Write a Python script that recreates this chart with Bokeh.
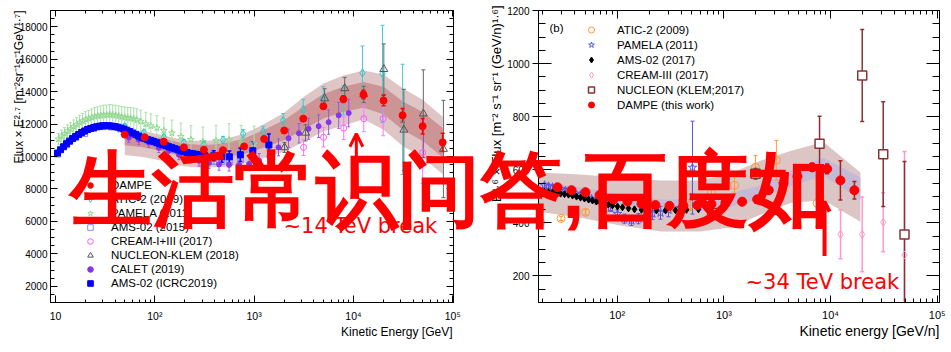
import math
from bokeh.plotting import figure
from bokeh.layouts import row
from bokeh.models import (ColumnDataSource, Whisker, TeeHead, Label, Arrow, OpenHead,
                          Legend, LegendItem, FixedTicker, LogAxis, LinearAxis, Range1d,
                          SingleIntervalTicker, CustomJSTickFormatter, GridBox)
from bokeh.embed import file_html
from bokeh.resources import INLINE
try:
    from bokeh.models import HTMLLabel
except ImportError:
    HTMLLabel = None

# ======================= Panel (a): proton, Flux x E^2.7 =======================
dampe_p_E = [49.8, 79.0, 123.0, 196.0, 312.0, 486.0, 792.0, 1262, 2010, 3126, 4979, 7925,
             12620, 20100, 31260, 49780, 79250]
dampe_p_F = [11352, 11184, 10916, 10561, 10417, 10386, 10623, 11084, 11601, 12330, 13097, 13533,
             13826, 13452, 12536, 11869, 10872]
dampe_p_err = [30, 30, 30, 40, 40, 50, 60, 80, 100, 130, 170, 210, 260, 330, 420, 480, 560]
band_p_in_lo = [10700, 10550, 10300, 10000, 9900, 9950, 10150, 10550, 11000, 11650, 12350, 12750,
                13000, 12600, 11650, 10950, 9950]
band_p_in_hi = [11500, 11350, 11100, 10800, 10700, 10800, 11100, 11650, 12250, 13050, 13850, 14300,
                14600, 14300, 13400, 12750, 11750]
band_p_out_lo = [10100, 9950, 9700, 9400, 9300, 9350, 9550, 9900, 10300, 10900, 11550, 11900,
                 12300, 11650, 10650, 9950, 8900]
band_p_out_hi = [11700, 11550, 11300, 11000, 10950, 11050, 11400, 12000, 12700, 13650, 14500, 15000,
                 15300, 15050, 14200, 13500, 12450]

ams19_E = [10.47, 11.23, 12.05, 12.91, 13.85, 14.85, 15.92, 17.08, 18.31, 19.63,
           21.05, 22.57, 24.20, 25.95, 27.83, 29.84, 31.99, 34.30, 36.79, 39.45,
           42.30, 45.36, 48.63, 52.14, 55.92, 59.96, 64.29, 68.94, 73.92, 79.25,
           84.98, 91.12, 97.70, 104.8, 112.3, 120.4, 129.2, 138.5, 148.5, 159.2,
           170.8, 183.1, 196.3, 210.5, 225.7, 242.0, 259.5, 278.3, 298.4, 319.9,
           391.7, 471.9, 563.0, 727.1, 970.3, 1408]
ams19_F = [10212, 10417, 10604, 10791, 10947, 11103, 11227, 11352, 11477, 11570,
           11664, 11726, 11788, 11832, 11869, 11894, 11900, 11894, 11875, 11850,
           11807, 11757, 11695, 11620, 11539, 11445, 11352, 11258, 11177, 11103,
           11040, 10978, 10916, 10854, 10791, 10729, 10667, 10604, 10542, 10480,
           10417, 10355, 10293, 10243, 10199, 10168, 10137, 10106, 10075, 10044,
           10044, 9981, 9981, 10106, 10355, 10710]
ams19_err = [40, 40, 40, 40, 40, 40, 40, 40, 40, 40,
             40, 40, 40, 40, 40, 40, 40, 40, 40, 40,
             40, 40, 40, 40, 40, 40, 40, 40, 40, 40,
             40, 40, 40, 40, 40, 40, 40, 40, 40, 40,
             60, 60, 60, 60, 60, 60, 60, 60, 60, 60,
             310, 330, 360, 420, 520, 675]

ams15_E = [10.47, 12.91, 15.92, 19.63, 24.20, 29.84, 36.79, 45.36, 55.92, 68.94, 84.98,
           104.8, 129.2, 159.2, 196.3, 242.0, 298.4, 391.7, 471.9, 563.0, 727.1, 970.3]
ams15_F = [10150, 10730, 11170, 11420, 11730, 11840, 11820, 11700, 11480, 11200, 10980,
           10790, 10600, 10420, 10230, 10100, 10000, 9700, 9700, 9650, 9800, 10000]
ams15_err = [40, 40, 40, 40, 40, 40, 40, 40, 40, 40, 50,
             50, 60, 60, 70, 80, 100, 150, 180, 220, 280, 350]

pam_p_E = [10.72, 11.50, 12.33, 13.22, 14.17, 15.20, 16.30, 17.47, 18.74, 20.09,
           21.54, 23.10, 24.77, 26.56, 28.48, 30.53, 32.75, 35.11, 37.65, 40.37,
           43.29, 46.42, 49.77, 53.37, 57.22, 61.36, 65.79, 72.23, 81.13, 91.12,
           104.8, 123.3, 148.5, 183.1, 231.0, 305.3, 413.3, 559.1, 739.1, 1000]
pam_p_F = [11072, 11258, 11414, 11570, 11695, 11850, 11975, 12100, 12193, 12286,
           12349, 12411, 12473, 12504, 12536, 12567, 12567, 12598, 12567, 12536,
           12504, 12442, 12411, 12380, 12349, 12318, 12255, 12162, 12006, 11881,
           11757, 11601, 11445, 11227, 11040, 10916, 10978, 11022, 10872, 10773]
pam_p_err = [350, 360, 370, 380, 390, 400, 420, 440, 460, 480,
             500, 520, 540, 560, 580, 600, 600, 610, 610, 620,
             620, 630, 640, 650, 660, 670, 680, 700, 720, 740,
             760, 780, 800, 830, 860, 900, 950, 1000, 1050, 1100]

atic_p_E = [49.8, 77.4, 123.3, 196.0, 312.0, 486.0, 774.0, 1232, 1963, 3126, 4979, 7925,
            12320, 19630, 31260]
atic_p_F = [11850, 11477, 11184, 10872, 10729, 11022, 11396, 11539, 12224, 12909, 13600, 13470,
            15152, 15090, 12287]
atic_p_err = [150, 150, 160, 170, 180, 220, 260, 320, 420, 600, 700, 900, 1660, 3000, 3400]

cream_p_E = [3148, 5001, 7985, 12710, 19930, 49780]
cream_p_F = [10561, 11184, 11745, 12330, 12330, 10249]
cream_p_err = [500, 600, 700, 800, 1050, 1900]

nuc_p_E = [2024, 3297, 5130, 8170, 12710, 20230, 32210, 50580, 80540]
nuc_p_F = [10561, 11458, 13576, 14199, 13825, 15383, 11645, 12641, 10461]
nuc_p_err = [310, 500, 600, 680, 500, 1560, 2500, 2700, 3000]

calet_E = [54.63, 68.94, 86.99, 109.7, 138.5, 174.7, 220.5, 278.3, 351.2, 443.1, 559.1, 705.5,
           890.2, 1123, 1427, 1760, 2221, 2828, 3536, 4462, 5630, 7104, 8965]
calet_F = [11165, 11040, 10854, 10542, 10355, 10106, 9919, 9732, 9607, 9514, 9483, 9483,
           9545, 9732, 9981, 10561, 11122, 11433, 11707, 11869, 12118, 12536, 12679]
calet_err = [300, 300, 300, 300, 300, 300, 300, 320, 340, 360, 380, 400,
             420, 450, 480, 520, 560, 600, 650, 700, 750, 800, 850]

left_legend_labels = ["DAMPE", "ATIC-2 (2009)", "PAMELA (2011)", "AMS-02 (2015)",
                      "CREAM-I+III (2017)", "NUCLEON-KLEM (2018)", "CALET (2019)",
                      "AMS-02 (ICRC2019)"]
left_x_ticks = [10, 100, 1000, 10000, 100000]
left_x_tick_labels = ["10", "10²", "10³", "10⁴", "10⁵"]
left_y_title = "Flux × E²·⁷ [m⁻²sr⁻¹s⁻¹GeV¹·⁷]"
left_x_title = "Kinetic Energy [GeV]"
left_arrow_E = 10700
left_arrow_F = [7500, 11400]

# ======================= Panel (b): helium, E^2.6 x Flux =======================
dampe_he_E = [27.57, 37.30, 50.46, 68.27, 92.33, 124.9, 168.9, 228.5, 309.2, 418.2,
              565.7, 765.4, 1035, 1484, 2052, 2635, 3620, 4896, 6722, 9292, 12380, 16750]
dampe_he_F = [534.1, 523.0, 515.6, 504.5, 488.0, 480.0, 472.0, 467.0, 464.0, 464.0,
              467.0, 471.0, 476.0, 479.7, 488.6, 523.0, 548.9, 574.8, 609.2, 603.3, 560.0, 523.0]
dampe_he_err = [3, 3, 3, 3, 3, 3, 3, 4, 4, 5, 5, 6, 7, 8, 9, 10, 12, 14, 15, 18, 74, 33]

band_he_E = [18.5, 45.29, 107.4, 254.6, 603.6, 1153, 2203, 4210, 8580, 19060]
band_he_out_lo = [441.6, 419.4, 389.8, 367.6, 367.6, 382.4, 430.5, 474.9, 486.0, 404.6]
band_he_out_hi = [589.6, 582.2, 571.1, 560.0, 560.0, 585.9, 634.0, 671.0, 704.3, 589.6]
band_he_in_lo = [508, 490, 463, 444, 444, 460, 490, 538, 578, 486]
band_he_in_hi = [553, 534, 507, 488, 488, 512, 542, 597, 645, 572]

ams_he_E = [19.11, 20.83, 22.71, 24.76, 26.98, 29.42, 32.07, 34.96, 38.12, 41.55,
            45.29, 49.38, 53.83, 58.69, 63.98, 69.75, 76.03, 82.88, 90.36, 100.6,
            112.1, 127.6, 145.3, 168.9, 196.5, 233.5, 283.6, 352.0, 446.2, 578.1,
            765.4, 1035]
ams_he_F = [519.3, 517.5, 515.6, 513.8, 511.9, 510.1, 508.2, 506.4, 502.7, 499.0,
            495.3, 491.6, 487.9, 484.2, 480.5, 476.8, 473.1, 469.4, 465.7, 462.0,
            458.3, 454.6, 450.9, 449.0, 447.2, 447.2, 447.2, 447.2, 449.0, 450.9,
            454.6, 460.1]

pam_he_E = [20.83, 22.71, 24.76, 26.98, 29.42, 32.78, 36.51, 40.68, 45.29, 50.47, 57.42, 65.37,
            74.39, 86.52, 100.6, 117.1, 136.1, 158.3, 184.2, 214.2, 254.6, 302.6, 392.0, 507.8]
pam_he_F = [541.5, 537.8, 534.1, 530.4, 526.7, 521.2, 515.6, 510.1, 504.5, 497.1, 489.7, 482.3,
            471.2, 456.4, 434.2, 415.7, 408.3, 415.7, 423.1, 434.2, 437.9, 449.0, 456.4, 608.1]
pam_he_err = [8, 8, 8, 8, 8, 9, 9, 9, 10, 10, 10, 11, 12, 13, 15, 17, 18, 19, 20, 22, 24, 26, 30, 175]

atic_he_E = [19.11, 29.74, 50.47, 192.3, 316.0, 486.7, 765.4, 1260, 1977, 3107, 7492]
atic_he_F = [402.0, 416.8, 439.8, 479.7, 455.3, 467.5, 515.6, 541.5, 609.2, 635.9, 473.8]
atic_he_err = [8, 8, 10, 15, 18, 20, 25, 30, 44, 75, 87]

cream_he_E = [12410, 19820, 31190, 49370]
cream_he_F = [356.5, 356.5, 402.0, 278.8]
cream_he_err = [92, 141, 111, 390]

nuc_he_E = [776, 1983, 7889, 19820, 31190, 49370]
nuc_he_F = [436.8, 584.8, 698.0, 955.0, 658.8, 356.5]
nuc_he_err = [15, 20, 104, 173, 197, 275]

right_legend_labels = ["ATIC-2 (2009)", "PAMELA (2011)", "AMS-02 (2017)", "CREAM-III (2017)",
                       "NUCLEON (KLEM;2017)", "DAMPE (this work)"]
right_x_ticks = [100, 1000, 10000, 100000]
right_x_tick_labels = ["10²", "10³", "10⁴", "10⁵"]
right_y_title = "E²·⁶ × Flux [m⁻² s⁻¹ sr⁻¹ (GeV/n)¹·⁶]"
right_x_title = "Kinetic energy [GeV/n]"
right_arrow_E = 8790
right_arrow_F = [275, 480]

watermark_text = "生活常识问答,百度如"

# ======================= helpers =======================
FONT = "Liberation Sans"
W, H = 951, 352


def minor_log(dmin, dmax):
    return [m * 10 ** d for d in range(dmin, dmax) for m in range(2, 10)]


def style_axis(ax, tin, tout, mtin, mtout, fs, standoff, hidden=False):
    ax.major_tick_in = tin
    ax.major_tick_out = tout
    ax.minor_tick_in = mtin
    ax.minor_tick_out = mtout
    ax.axis_line_color = "black"
    ax.major_tick_line_color = "black"
    ax.minor_tick_line_color = "black"
    ax.major_label_text_font = FONT
    ax.major_label_text_color = "black"
    ax.major_label_text_font_size = fs
    ax.major_label_standoff = standoff
    if hidden:
        ax.formatter = CustomJSTickFormatter(code="return ''")


def add_errors(p, xs, ys, es, color, width=1, head=5):
    src = ColumnDataSource(dict(x=list(xs),
                                lo=[y - e for y, e in zip(ys, es)],
                                hi=[y + e for y, e in zip(ys, es)]))
    w = Whisker(source=src, base="x", lower="lo", upper="hi", dimension="height",
                level="underlay", line_color=color, line_width=width,
                upper_head=TeeHead(size=head, line_color=color, line_width=width),
                lower_head=TeeHead(size=head, line_color=color, line_width=width))
    p.add_layout(w)


def series(p, xs, ys, marker, size, color, fill, lw=1):
    return p.scatter(xs, ys, marker=marker, size=size, line_color=color,
                     fill_color=fill, line_width=lw)


def legend_line(p, color, lw=1):
    # legend-only line sample (no data)
    return p.line(x=[], y=[], line_color=color, line_width=lw)


def make_fig(width, xr, yr, bl, br, bt, bb):
    p = figure(width=width, height=H, x_axis_type="log",
               x_range=Range1d(*xr), y_range=Range1d(*yr),
               output_backend="svg", toolbar_location=None,
               min_border_left=bl, min_border_right=br, min_border_top=bt, min_border_bottom=bb)
    p.xgrid.visible = False
    p.ygrid.visible = False
    p.outline_line_color = "black"
    p.outline_line_width = 1
    p.background_fill_color = "white"
    p.border_fill_color = "white"
    return p


# ======================= Left figure =======================
p1 = make_fig(481, (8.9, 1.018e5), (1000, 19000), 50, 28, 10, 50)

p1.xaxis[0].ticker = FixedTicker(ticks=left_x_ticks, minor_ticks=minor_log(1, 5))
p1.xaxis[0].major_label_overrides = dict(zip(left_x_ticks, left_x_tick_labels))
style_axis(p1.xaxis[0], 7, 0, 3, 0, "10.5px", 7)
p1.yaxis[0].ticker = SingleIntervalTicker(interval=2000, num_minor_ticks=4)
style_axis(p1.yaxis[0], 7, 0, 4, 0, "10px", 3)
top1 = LogAxis(ticker=FixedTicker(ticks=left_x_ticks, minor_ticks=minor_log(1, 5)))
style_axis(top1, 6, 0, 3, 0, "1px", 0, hidden=True)
p1.add_layout(top1, "above")
right1 = LinearAxis(ticker=SingleIntervalTicker(interval=2000, num_minor_ticks=4))
style_axis(right1, 7, 0, 4, 0, "1px", 0, hidden=True)
p1.add_layout(right1, "right")

p1.varea(dampe_p_E, band_p_out_lo, band_p_out_hi, fill_color="#dfc5c5", level="underlay")
p1.varea(dampe_p_E, band_p_in_lo, band_p_in_hi, fill_color="#cc9494", level="underlay")

add_errors(p1, pam_p_E, pam_p_F, pam_p_err, "#a8e0a8", 1, 3)
add_errors(p1, ams15_E, ams15_F, ams15_err, "#9999ff", 1, 3)
add_errors(p1, calet_E, calet_F, calet_err, "#9955ee", 1, 3)
add_errors(p1, atic_p_E, atic_p_F, atic_p_err, "#44cccc", 1, 4)
add_errors(p1, cream_p_E, cream_p_F, cream_p_err, "#ff77ff", 1, 4)
add_errors(p1, nuc_p_E, nuc_p_F, nuc_p_err, "#666666", 1, 4)
add_errors(p1, ams19_E, ams19_F, ams19_err, "#0000ff", 1.5, 4)
add_errors(p1, dampe_p_E, dampe_p_F, dampe_p_err, "#ff0000", 1.5, 4)

s_pam = series(p1, pam_p_E, pam_p_F, "star", 7, "#90d890", None)
s_a15 = series(p1, ams15_E, ams15_F, "square", 6, "#8888ff", None)
s_cal = series(p1, calet_E, calet_F, "circle", 5, "#8833ee", "#8833ee")
s_ati = series(p1, atic_p_E, atic_p_F, "diamond", 8, "#33c4c4", None)
s_cre = series(p1, cream_p_E, cream_p_F, "circle", 6, "#ff55ff", None)
s_nuc = series(p1, nuc_p_E, nuc_p_F, "triangle", 8, "#555555", None)
s_a19 = series(p1, ams19_E, ams19_F, "square", 6, "#0000ff", "#0000ff")
s_dam = series(p1, dampe_p_E, dampe_p_F, "circle", 7, "#ff0000", "#ff0000")

leg1_items = []
for lab, col, lw, sc in zip(
        left_legend_labels,
        ["#ff0000", "#33c4c4", "#90d890", "#8888ff", "#ff55ff", "#555555", "#8833ee", "#0000ff"],
        [1, 1, 1, 1, 1, 1, 1, 2],
        [s_dam, s_ati, s_pam, s_a15, s_cre, s_nuc, s_cal, s_a19]):
    ln = legend_line(p1, col, lw)
    leg1_items.append(LegendItem(label=lab, renderers=[ln, sc]))
leg1 = Legend(items=leg1_items, location=(25, 12), glyph_width=30, glyph_height=14,
              label_height=14, label_standoff=6, spacing=0, padding=0, margin=0,
              border_line_color=None, background_fill_alpha=0,
              label_text_font=FONT, label_text_font_size="11.5px", label_text_color="black")
p1.add_layout(leg1)

p1.add_layout(Arrow(x_start=left_arrow_E, y_start=left_arrow_F[0], x_end=left_arrow_E, y_end=left_arrow_F[1],
                    line_color="#ff0000", line_width=3,
                    end=OpenHead(size=13, line_color="#ff0000", line_width=3)))
p1.add_layout(Label(x=233, y=77, x_units="screen", y_units="screen", text="~14 TeV break",
                    text_font="DejaVu Sans", text_font_size="21px", text_color="#ff0000",
                    text_align="left", text_baseline="alphabetic"))

# ======================= Right figure =======================
p2 = make_fig(470, (18.29, 1.051e5), (100, 1200), 57, 12, 7, 48)

p2.xaxis[0].ticker = FixedTicker(ticks=right_x_ticks, minor_ticks=minor_log(1, 5))
p2.xaxis[0].major_label_overrides = dict(zip(right_x_ticks, right_x_tick_labels))
style_axis(p2.xaxis[0], 7, 0, 4, 0, "11px", 6)
p2.yaxis[0].ticker = SingleIntervalTicker(interval=200, num_minor_ticks=4)
style_axis(p2.yaxis[0], 13, 6, 7, 0, "10px", 3)
top2 = LogAxis(ticker=FixedTicker(ticks=right_x_ticks, minor_ticks=minor_log(1, 5)))
style_axis(top2, 8, 0, 4, 0, "1px", 0, hidden=True)
p2.add_layout(top2, "above")
right2 = LinearAxis(ticker=SingleIntervalTicker(interval=200, num_minor_ticks=4))
style_axis(right2, 13, 0, 7, 0, "1px", 0, hidden=True)
p2.add_layout(right2, "right")

p2.varea(band_he_E, band_he_out_lo, band_he_out_hi, fill_color="#dcc5c5", level="underlay")
p2.varea(band_he_E, band_he_in_lo, band_he_in_hi, fill_color="#c4bad6", level="underlay")

add_errors(p2, pam_he_E, pam_he_F, pam_he_err, "#5555dd", 1, 4)
add_errors(p2, atic_he_E, atic_he_F, atic_he_err, "#ff9933", 1, 4)
add_errors(p2, cream_he_E, cream_he_F, cream_he_err, "#ff99cc", 1.5, 4)
add_errors(p2, nuc_he_E, nuc_he_F, nuc_he_err, "#883333", 1.5, 4)
add_errors(p2, dampe_he_E, dampe_he_F, dampe_he_err, "#aa2222", 1.5, 4)

t_ati = series(p2, atic_he_E, atic_he_F, "circle", 8, "#ff9933", None)
t_pam = series(p2, pam_he_E, pam_he_F, "star", 9, "#5555dd", None)
t_ams = series(p2, ams_he_E, ams_he_F, "diamond", 7, "#000000", "#000000")
t_cre = series(p2, cream_he_E, cream_he_F, "diamond", 8, "#ff99cc", None)
t_nuc = series(p2, nuc_he_E, nuc_he_F, "square", 9, "#883333", "white", 1.5)
t_dam = series(p2, dampe_he_E, dampe_he_F, "circle", 9, "#ff0000", "#ff0000")

leg2_items = []
for lab, col, sc in zip(
        right_legend_labels,
        ["#ff9933", "#5555dd", "#000000", "#ff99cc", "#883333", "#ff0000"],
        [t_ati, t_pam, t_ams, t_cre, t_nuc, t_dam]):
    ln = legend_line(p2, col, 1)
    leg2_items.append(LegendItem(label=lab, renderers=[ln, sc]))
leg2 = Legend(items=leg2_items, location=(34, 190), glyph_width=38, glyph_height=15,
              label_height=15, label_standoff=7, spacing=0, padding=0, margin=0,
              border_line_color=None, background_fill_alpha=0,
              label_text_font=FONT, label_text_font_size="11.5px", label_text_color="black")
p2.add_layout(leg2)

p2.add_layout(Label(x=11, y=275, x_units="screen", y_units="screen", text="(b)",
                    text_font=FONT, text_font_size="11.5px", text_color="black",
                    text_align="left", text_baseline="alphabetic"))
p2.add_layout(Arrow(x_start=right_arrow_E, y_start=right_arrow_F[0], x_end=right_arrow_E, y_end=right_arrow_F[1],
                    line_color="#ff0000", line_width=4,
                    end=OpenHead(size=10, line_color="#ff0000", line_width=4)))
p2.add_layout(Label(x=207, y=21, x_units="screen", y_units="screen", text="~34 TeV break",
                    text_font="DejaVu Sans", text_font_size="21px", text_color="#ff0000",
                    text_align="left", text_baseline="alphabetic"))

# ======================= Transparent overlay (axis titles + watermark) =======================
ov = figure(width=W, height=H, x_range=Range1d(0, W), y_range=Range1d(0, H),
            x_axis_location=None, y_axis_location=None, output_backend="svg",
            toolbar_location=None, min_border=0)
ov.title.visible = False
ov.grid.visible = False
ov.outline_line_color = None
ov.background_fill_color = None
ov.border_fill_color = None


def ov_text(x, y_top, text, fs, align="left", angle=0.0, font=FONT, color="black", style="normal"):
    ov.add_layout(Label(x=x, y=H - y_top, x_units="screen", y_units="screen", text=text,
                        angle=angle, text_font=font, text_font_size=fs, text_color=color,
                        text_font_style=style, text_align=align, text_baseline="alphabetic"))


ov_text(18, 10, left_y_title, "12px", align="right", angle=math.pi / 2)
ov_text(452, 331, left_x_title, "12px", align="right")
ov_text(496, 5, right_y_title, "13px", align="right", angle=math.pi / 2)
ov_text(939, 330, right_x_title, "14px", align="right")

wm_kw = dict(x=70, y=H - 191, x_units="screen", y_units="screen", text=watermark_text,
             text_font="Noto Sans CJK SC", text_font_style="bold", text_font_size="82px",
             text_color="#ff0000", text_align="left", text_baseline="middle")
if HTMLLabel is not None:
    ov.add_layout(HTMLLabel(**wm_kw))
else:
    ov.add_layout(Label(**wm_kw))

layout = GridBox(children=[(row(p1, p2), 0, 0), (ov, 0, 0)])
open("out.html", "w").write(file_html(layout, INLINE, title="chart"))
